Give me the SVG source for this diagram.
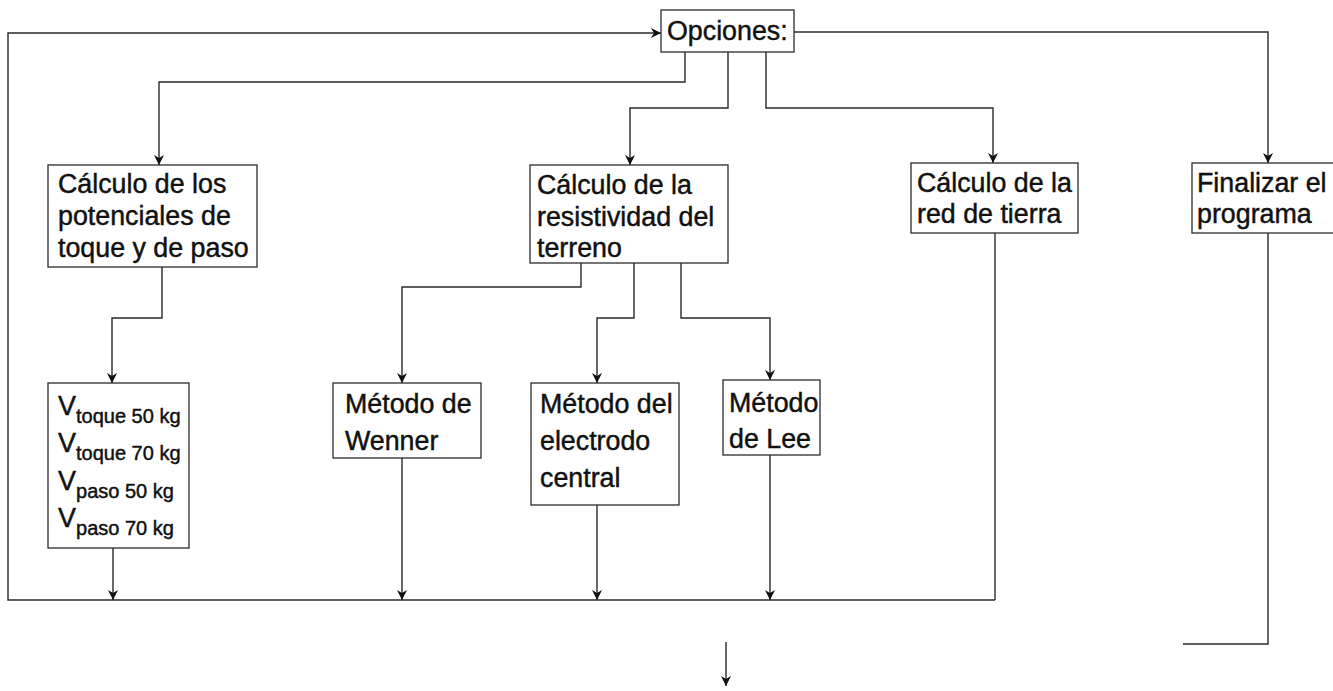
<svg xmlns="http://www.w3.org/2000/svg" width="1333" height="691" viewBox="0 0 1333 691">
<style>
.box{fill:#fff;stroke:#2b2b2b;stroke-width:1.3}
.t{font-family:"Liberation Sans",Arial,sans-serif;font-size:26.8px;fill:#111;stroke:#111;stroke-width:0.45}
.v{font-family:"Liberation Sans",Arial,sans-serif;font-size:27px;fill:#111;stroke:#111;stroke-width:0.45}
.s{font-size:20px}
.c{fill:none;stroke:#2a2a2a;stroke-width:1.4}
.a{marker-end:url(#arr)}
</style>
<defs>
<marker id="arr" viewBox="0 0 10 10" refX="10" refY="5" markerWidth="10" markerHeight="10" markerUnits="userSpaceOnUse" orient="auto">
<path d="M0,0 L10,5 L0,10 L3,5 z" fill="#111"/>
</marker>
</defs>
<rect width="1333" height="691" fill="#fff"/>
<g id="connectors">
<path class="c a" d="M995,600 L8,600 L8,33 L661,33"/>
<path class="c a" d="M794,32 L1268,32 L1268,163"/>
<path class="c a" d="M685,52 L685,82 L159,82 L159,165"/>
<path class="c a" d="M728,52 L728,108 L630,108 L630,165"/>
<path class="c a" d="M766,52 L766,108 L993,108 L993,163"/>
<path class="c a" d="M162,267 L162,318 L112,318 L112,383"/>
<path class="c a" d="M581,263 L581,287 L402,287 L402,383"/>
<path class="c a" d="M634,263 L634,318 L597,318 L597,383"/>
<path class="c a" d="M681,263 L681,318 L770,318 L770,380"/>
<path class="c a" d="M113,548 L113,600"/>
<path class="c a" d="M402,458 L402,600"/>
<path class="c a" d="M597,505 L597,600"/>
<path class="c a" d="M770,455 L770,600"/>
<path class="c" d="M995,233 L995,600"/>
<path class="c" d="M1268,233 L1268,644 L1183,644"/>
<path class="c a" d="M726,642 L726,686"/>
</g>
<g id="opciones">
<rect class="box" x="661" y="10" width="133" height="42"/>
<text class="t" x="667" y="40">Opciones:</text>
</g>
<g id="potenciales">
<rect class="box" x="48" y="165" width="209" height="102"/>
<text class="t" x="58" y="193">Cálculo de los</text>
<text class="t" x="58" y="225">potenciales de</text>
<text class="t" x="58" y="257">toque y de paso</text>
</g>
<g id="resistividad">
<rect class="box" x="530" y="165" width="198" height="98"/>
<text class="t" x="537" y="194">Cálculo de la</text>
<text class="t" x="537" y="226">resistividad del</text>
<text class="t" x="537" y="257">terreno</text>
</g>
<g id="red">
<rect class="box" x="911" y="163" width="167" height="70"/>
<text class="t" x="917" y="192">Cálculo de la</text>
<text class="t" x="917" y="223">red de tierra</text>
</g>
<g id="finalizar">
<rect class="box" x="1192" y="163" width="160" height="70"/>
<text class="t" x="1197" y="192">Finalizar el</text>
<text class="t" x="1197" y="223">programa</text>
</g>
<g id="voltajes">
<rect class="box" x="48" y="383" width="141" height="165"/>
<text class="v" x="58" y="415">V<tspan class="s" dy="8">toque 50 kg</tspan></text>
<text class="v" x="58" y="452">V<tspan class="s" dy="8">toque 70 kg</tspan></text>
<text class="v" x="58" y="490">V<tspan class="s" dy="8">paso 50 kg</tspan></text>
<text class="v" x="58" y="527">V<tspan class="s" dy="8">paso 70 kg</tspan></text>
</g>
<g id="wenner">
<rect class="box" x="333" y="383" width="148" height="75"/>
<text class="t" x="345" y="413">Método de</text>
<text class="t" x="345" y="450">Wenner</text>
</g>
<g id="electrodo">
<rect class="box" x="531" y="383" width="148" height="122"/>
<text class="t" x="540" y="413">Método del</text>
<text class="t" x="540" y="450">electrodo</text>
<text class="t" x="540" y="487">central</text>
</g>
<g id="lee">
<rect class="box" x="723" y="380" width="97" height="75"/>
<text class="t" x="729" y="412">Método</text>
<text class="t" x="729" y="448">de Lee</text>
</g>
</svg>
